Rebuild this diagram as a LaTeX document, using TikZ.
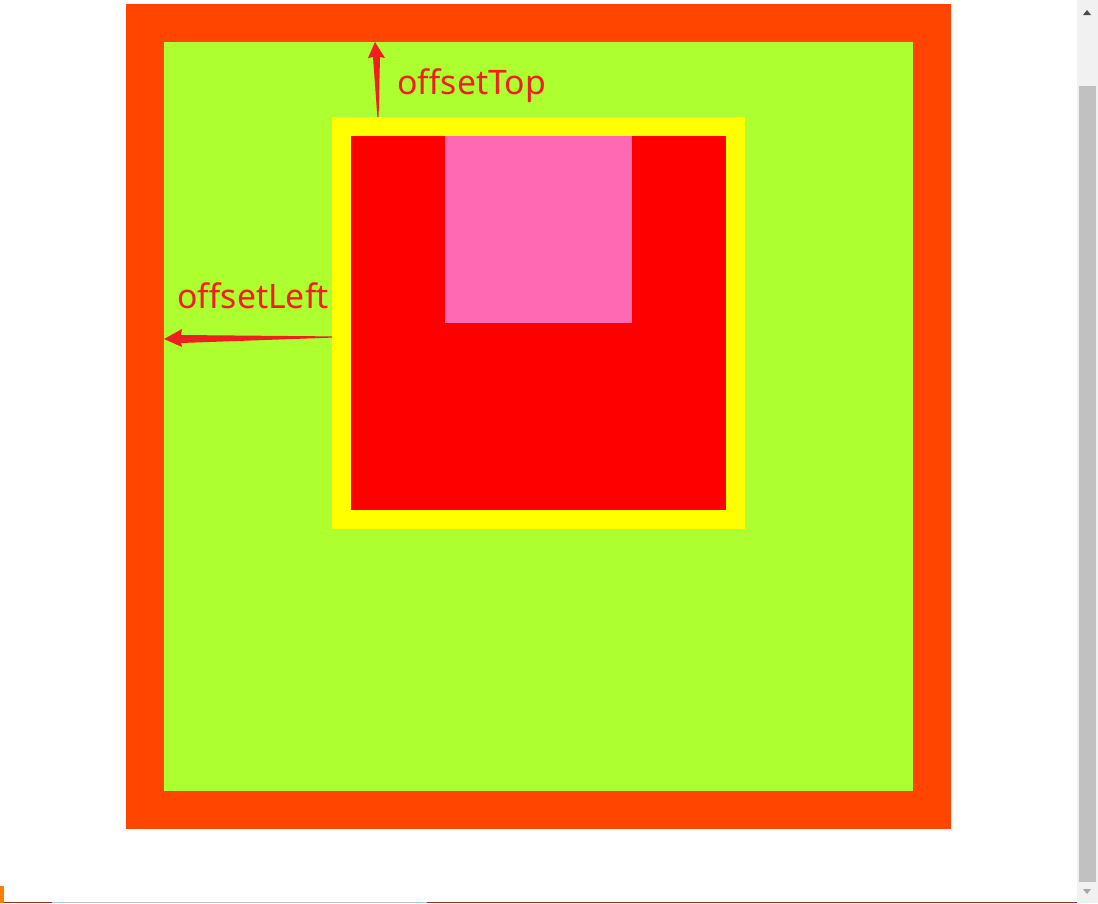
\documentclass[tikz,border=0pt]{standalone}
\usepackage{fontspec}
\setmainfont{Noto Sans}
\usepackage{xcolor}
\definecolor{orangeredc}{RGB}{255,69,0}
\definecolor{greenyellowc}{RGB}{173,255,47}
\definecolor{yellowc}{RGB}{255,255,0}
\definecolor{redc}{RGB}{255,0,0}
\definecolor{pinkc}{RGB}{255,105,180}
\definecolor{markred}{RGB}{240,30,30}
\definecolor{trackgray}{RGB}{241,241,241}
\definecolor{thumbgray}{RGB}{193,193,193}
\definecolor{bottomline}{RGB}{158,43,27}

\tikzset{
    box/.style={draw=none},
    marker/.style={fill=markred, draw=none},
    label/.style={text=markred, font=\fontsize{24}{28}\selectfont, inner sep=0pt, anchor=base west}
}

\begin{document}
\begin{tikzpicture}[x=0.025cm, y=-0.025cm]
    \useasboundingbox (0,0) rectangle (1098,903);
    \fill[white] (0,0) rectangle (1098,903);

    % boxes
    \fill[box, orangeredc] (126,4) rectangle (951,829);
    \fill[box, greenyellowc] (164,42) rectangle (913,791);
    \fill[box, yellowc] (332,117) rectangle (745,529);
    \fill[box, redc] (351,136) rectangle (726,510);
    \fill[box, pinkc] (445,136) rectangle (632,323);

    % arrows
    \fill[marker] (375,42) -- (385,58) -- (380,57) -- (378.6,117) -- (377.4,117) -- (373,57) -- (368,58) -- cycle;
    \fill[marker] (164,339) -- (182,329) -- (181,335) -- (332,336.4) -- (332,337.6) -- (181,343) -- (182,347) -- cycle;

    \node[label] (top) at (397,94) {offsetTop};
    \node[label] (left) at (177,308) {offsetLeft};

    % scrollbar
    \fill[trackgray] (1077,0) rectangle (1098,903);
    \fill[thumbgray] (1079,86) rectangle (1096,882);
    \fill[black!70] (1083,15) -- (1091,15) -- (1087,10) -- cycle;
    \fill[black!35] (1083,889) -- (1091,889) -- (1087,894) -- cycle;

    % bottom edge
    \fill[bottomline] (0,901.5) rectangle (1077,903);
    \fill[thumbgray] (52,901.5) rectangle (427,903);
    \fill[orange] (0,886) rectangle (4,903);
\end{tikzpicture}
\end{document}
